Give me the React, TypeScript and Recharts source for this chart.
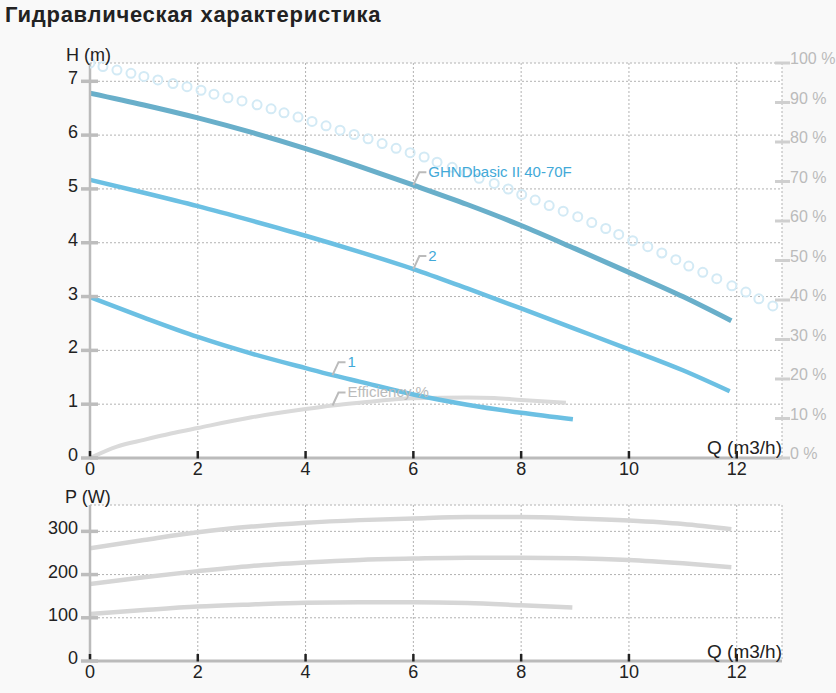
import React from 'react';
import { ComposedChart, Line, XAxis, YAxis, CartesianGrid } from 'recharts';

// flow ticks shared by both charts
const qTicks = [0, 2, 4, 6, 8, 10, 12];
const headTicks = [0, 1, 2, 3, 4, 5, 6, 7];
const pctTicks = [0, 10, 20, 30, 40, 50, 60, 70, 80, 90, 100];
const powerTicks = [0, 100, 200, 300];

// head curves, H (m)
const qMax = [0, 1, 2, 3, 4, 5, 6, 7, 8, 9, 10, 11, 11.9];
const hMax = [6.78, 6.56, 6.32, 6.05, 5.75, 5.42, 5.07, 4.71, 4.32, 3.89, 3.45, 3.0, 2.55];
const qSpeed2 = [0, 1, 2, 3, 4, 5, 6, 7, 8, 9, 10, 11, 11.87];
const hSpeed2 = [5.17, 4.93, 4.68, 4.41, 4.13, 3.83, 3.51, 3.15, 2.78, 2.4, 2.02, 1.63, 1.24];
const qSpeed1 = [0, 1, 2, 3, 4, 4.5, 5, 6, 7, 8, 8.96];
const hSpeed1 = [2.99, 2.61, 2.25, 1.94, 1.67, 1.54, 1.42, 1.18, 0.99, 0.84, 0.72];

// efficiency, %
const qEff = [0, 0.5, 1, 1.5, 2, 3, 4, 4.5, 5, 6, 7, 7.5, 8, 8.83];
const effPct = [0, 2.9, 4.6, 6.2, 7.6, 10.3, 12.4, 13.3, 14.0, 15.1, 15.3, 15.2, 14.7, 14.0];

// dotted ring curve, %
const qRing = [
  0, 0.24, 0.5, 0.76, 1.0, 1.26, 1.54, 1.8, 2.06, 2.3, 2.56, 2.82, 3.1, 3.36, 3.6, 3.86, 4.12,
  4.38, 4.64, 4.9, 5.16, 5.42, 5.68, 5.94, 6.2, 6.44, 6.72, 6.98, 7.22, 7.5, 7.76, 8.01, 8.26,
  8.52, 8.78, 9.05, 9.31, 9.57, 9.81, 10.07, 10.35, 10.61, 10.87, 11.11, 11.37, 11.63, 11.91,
  12.17, 12.41, 12.67,
];
const ringPct = [
  100.0, 99.1, 98.2, 97.4, 96.6, 95.7, 94.8, 94.0, 93.1, 92.1, 91.2, 90.4, 89.4, 88.4, 87.4,
  86.3, 85.2, 84.1, 83.0, 81.9, 80.8, 79.6, 78.4, 77.3, 76.2, 74.9, 73.6, 72.2, 70.8, 69.5,
  68.1, 66.7, 65.3, 63.9, 62.5, 61.1, 59.6, 58.1, 56.6, 55.0, 53.5, 51.9, 50.2, 48.6, 47.0,
  45.4, 43.6, 42.0, 40.3, 38.5,
];

// power curves, P (W)
const qPowMax = [0, 1, 2, 3, 4, 5, 6, 7, 8, 9, 10, 11, 11.9];
const pMax = [261, 280, 298, 311, 320, 326, 330, 333, 333, 330, 325, 317, 305];
const qPow2 = [0, 1, 2, 3, 4, 5, 6, 7, 8, 9, 10, 11, 11.9];
const pSpeed2 = [178, 194, 208, 220, 228, 234, 237, 239, 239, 238, 234, 226, 217];
const qPow1 = [0, 1, 2, 3, 4, 5, 6, 7, 8, 8.95];
const pSpeed1 = [109, 118, 126, 131, 135, 136, 136, 134, 129, 124];

const rows = (qs: number[], vs: number[]) => qs.map((q, i) => ({ q, v: vs[i] }));

const FONT = '"Liberation Sans", Arial, sans-serif';
const BLUE = '#6cc0e3';
const BLUE_DARK = '#69afca';
const GREY_LINE = '#d6d6d6';

const LeftTick = ({ x, y, payload }: any) => (
  <g>
    <line x1={x - 9} x2={x + 8} y1={y} y2={y} stroke="#bdbdbd" strokeWidth={3.5} />
    <text x={x - 12} y={y + 3} textAnchor="end" fontSize={18} fill="#222" fontFamily={FONT}>
      {payload.value}
    </text>
  </g>
);

const RightTick = ({ x, y, payload }: any) => (
  <g>
    <line x1={x - 7} x2={x + 8} y1={y} y2={y} stroke="#cfcfcf" strokeWidth={3} />
    <text x={x + 8} y={y + 1} fontSize={16} fill="#bbb" fontFamily={FONT}>
      {`${payload.value} %`}
    </text>
  </g>
);

const BottomTick = ({ x, y, payload }: any) => (
  <g>
    <line x1={x} x2={x} y1={y - 7} y2={y + 0.5} stroke="#222" strokeWidth={2.5} />
    <text x={x} y={y + 17} textAnchor="middle" fontSize={18} fill="#222" fontFamily={FONT}>
      {payload.value}
    </text>
  </g>
);

const curveLabel = (text: string, color: string, at: number) => (props: any) => {
  if (props.index !== at) return <g />;
  const { x, y } = props;
  return (
    <g>
      <polyline
        points={`${x},${y} ${x + 6},${y - 13} ${x + 13},${y - 13}`}
        stroke="#bbb"
        strokeWidth={2}
        fill="none"
      />
      <text x={x + 15} y={y - 8} fontSize={15} fill={color} fontFamily={FONT}>
        {text}
      </text>
    </g>
  );
};

const xAxisProps = {
  dataKey: 'q',
  type: 'number' as const,
  domain: [0, 12.84],
  ticks: qTicks,
  allowDataOverflow: true,
  height: 25,
  tickSize: 0,
  tickMargin: 0,
  tickLine: false,
  tick: <BottomTick />,
  axisLine: { stroke: '#bbb', strokeWidth: 3 },
};

export default function App() {
  return (
    <div
      style={{
        position: 'absolute',
        left: 0,
        top: 0,
        width: 836,
        height: 693,
        background: '#f9f9f9',
        fontFamily: FONT,
        overflow: 'hidden',
      }}
    >
      <div
        style={{
          position: 'absolute',
          left: 5,
          top: 4,
          fontSize: 22,
          lineHeight: '22px',
          fontWeight: 'bold',
          color: '#222',
          letterSpacing: 0.7,
        }}
      >
        Гидравлическая характеристика
      </div>

      <div style={{ position: 'absolute', left: 0, top: 0 }}>
        <ComposedChart width={836} height={490} margin={{ top: 63, right: 0, bottom: 7, left: 50 }}>
          <CartesianGrid stroke="#b2b2b2" strokeDasharray="2 2" fill="#fff" />
          <XAxis {...xAxisProps} />
          <YAxis
            domain={[0, 7.34]}
            ticks={headTicks}
            allowDataOverflow
            width={40}
            tickSize={0}
            tickMargin={0}
            tickLine={false}
            tick={<LeftTick />}
            axisLine={{ stroke: '#bbb', strokeWidth: 2.5 }}
          />
          <YAxis
            yAxisId="right"
            orientation="right"
            domain={[0, 100]}
            ticks={pctTicks}
            width={54}
            tickSize={0}
            tickMargin={0}
            tickLine={false}
            axisLine={false}
            tick={<RightTick />}
          />
          <Line
            data={rows(qRing, ringPct)}
            dataKey="v"
            yAxisId="right"
            stroke="none"
            dot={{ r: 4.5, stroke: '#d3eaf5', strokeWidth: 2, fill: 'none' }}
            isAnimationActive={false}
          />
          <Line
            data={rows(qEff, effPct)}
            dataKey="v"
            yAxisId="right"
            type="monotone"
            stroke="#dadada"
            strokeWidth={4}
            dot={false}
            label={curveLabel('Efficiency %', '#bbb', 7)}
            isAnimationActive={false}
          />
          <Line
            data={rows(qSpeed1, hSpeed1)}
            dataKey="v"
            type="monotone"
            stroke={BLUE}
            strokeWidth={4.5}
            dot={false}
            label={curveLabel('1', '#42a9d8', 5)}
            isAnimationActive={false}
          />
          <Line
            data={rows(qSpeed2, hSpeed2)}
            dataKey="v"
            type="monotone"
            stroke={BLUE}
            strokeWidth={4.5}
            dot={false}
            label={curveLabel('2', '#42a9d8', 6)}
            isAnimationActive={false}
          />
          <Line
            data={rows(qMax, hMax)}
            dataKey="v"
            type="monotone"
            stroke={BLUE_DARK}
            strokeWidth={5}
            dot={false}
            label={curveLabel('GHNDbasic II 40-70F', '#42a9d8', 6)}
            isAnimationActive={false}
          />
        </ComposedChart>
      </div>

      <div style={{ position: 'absolute', left: 0, top: 480 }}>
        <ComposedChart width={836} height={213} margin={{ top: 25, right: 54, bottom: 7, left: 50 }}>
          <CartesianGrid stroke="#b2b2b2" strokeDasharray="2 2" fill="#fff" />
          <XAxis {...xAxisProps} />
          <YAxis
            domain={[0, 361]}
            ticks={powerTicks}
            allowDataOverflow
            width={40}
            tickSize={0}
            tickMargin={0}
            tickLine={false}
            tick={<LeftTick />}
            axisLine={{ stroke: '#bbb', strokeWidth: 2.5 }}
          />
          <Line
            data={rows(qPow1, pSpeed1)}
            dataKey="v"
            type="monotone"
            stroke={GREY_LINE}
            strokeWidth={4.5}
            dot={false}
            isAnimationActive={false}
          />
          <Line
            data={rows(qPow2, pSpeed2)}
            dataKey="v"
            type="monotone"
            stroke={GREY_LINE}
            strokeWidth={4.5}
            dot={false}
            isAnimationActive={false}
          />
          <Line
            data={rows(qPowMax, pMax)}
            dataKey="v"
            type="monotone"
            stroke={GREY_LINE}
            strokeWidth={4.5}
            dot={false}
            isAnimationActive={false}
          />
        </ComposedChart>
      </div>

      <svg
        width={836}
        height={693}
        style={{ position: 'absolute', left: 0, top: 0, pointerEvents: 'none' }}
      >
        <g fontFamily={FONT} fill="#222">
          <text x={66} y={61} fontSize={18}>H (m)</text>
          <text x={782} y={454} fontSize={19} textAnchor="end">Q (m3/h)</text>
          <text x={65} y={503} fontSize={18}>P (W)</text>
          <text x={782} y={658} fontSize={19} textAnchor="end">Q (m3/h)</text>
        </g>
      </svg>
    </div>
  );
}
